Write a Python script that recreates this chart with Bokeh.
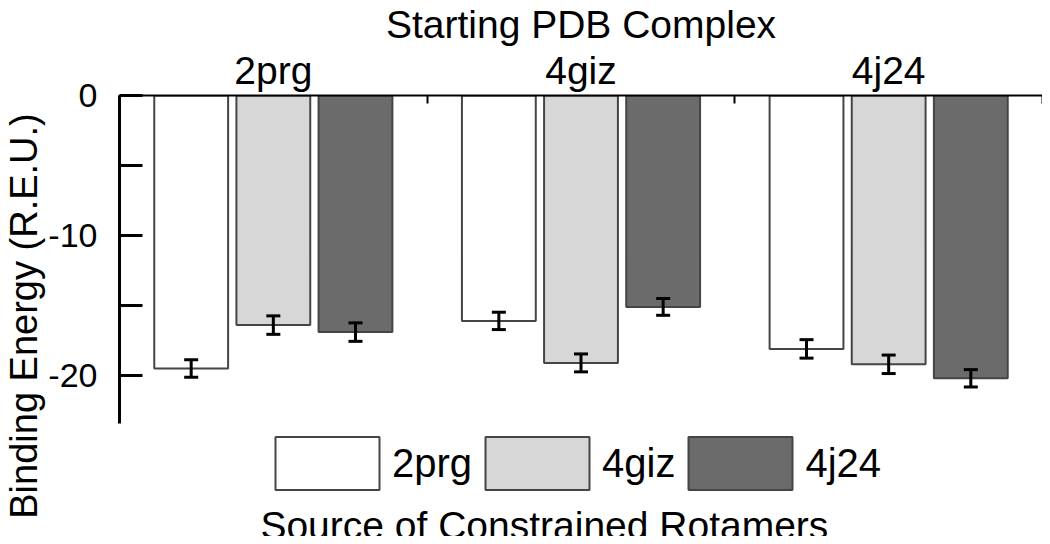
from bokeh.plotting import figure
from bokeh.models import (Range1d, LinearAxis, FixedTicker, ColumnDataSource,
                          Whisker, TeeHead, Legend, LegendItem, Label)
from bokeh.transform import dodge
from bokeh.embed import file_html
from bokeh.resources import INLINE

# Starting PDB complexes (groups) and sources of constrained rotamers (series)
complexes = ["2prg", "4giz", "4j24"]
sources = ["2prg", "4giz", "4j24"]

# Binding energy (R.E.U.) per starting complex, one list per rotamer source
energy_src_2prg = [-19.5, -16.1, -18.1]
energy_src_4giz = [-16.4, -19.1, -19.2]
energy_src_4j24 = [-16.9, -15.1, -20.2]

# error bar half-lengths
err_src_2prg = [0.62, 0.62, 0.66]
err_src_4giz = [0.66, 0.64, 0.66]
err_src_4j24 = [0.66, 0.6, 0.62]

y_tick_values = [0, -10, -20]
y_tick_labels = ["0", "-10", "-20"]
y_minor_values = [-5, -15]
y_axis_min = -23.4

FONT = "Liberation Sans"
fills = ["#ffffff", "#d7d7d7", "#6b6b6b"]
offsets = [-0.267, 0.0, 0.267]

energies = [energy_src_2prg, energy_src_4giz, energy_src_4j24]
errors = [err_src_2prg, err_src_4giz, err_src_4j24]

# group centres on a 0..N axis (one unit per starting complex)
centres = [i + 0.5 for i in range(len(complexes))]
data = {"complex": complexes, "xc": centres}
for k, (e, r) in enumerate(zip(energies, errors)):
    data[f"v{k}"] = e
    data[f"up{k}"] = [a - b for a, b in zip(e, r)]
    data[f"lo{k}"] = [a + b for a, b in zip(e, r)]
src = ColumnDataSource(data)

# the frame extends below the axis so that the legend and the bottom label sit inside it
p = figure(width=1042, height=536,
           x_range=Range1d(0, len(complexes)),
           y_range=Range1d(-31.5, 0),
           x_axis_location=None,
           output_backend="svg", toolbar_location=None,
           title="Starting PDB Complex",
           min_border_left=119, min_border_right=0,
           min_border_top=87, min_border_bottom=0)
p.outline_line_color = None
p.grid.visible = False
p.background_fill_color = "white"

p.title.text_font = FONT
p.title.text_font_size = "39px"
p.title.text_font_style = "normal"
p.title.align = "center"
p.title.text_color = "black"
p.title.standoff = 0

xax = LinearAxis(ticker=FixedTicker(ticks=centres,
                                    minor_ticks=list(range(len(complexes) + 1))),
                 major_label_overrides={t: c for t, c in zip(centres, complexes)})
xax.major_tick_line_color = None
xax.minor_tick_in = 8
xax.minor_tick_out = 0
xax.minor_tick_line_width = 2
xax.minor_tick_line_color = "black"
xax.axis_line_width = 2
xax.axis_line_color = "black"
xax.major_label_text_font = FONT
xax.major_label_text_font_size = "39px"
xax.major_label_text_color = "black"
xax.major_label_standoff = -2
p.add_layout(xax, "above")

yax = p.yaxis[0]
yax.bounds = (y_axis_min, 0)
yax.ticker = FixedTicker(ticks=y_tick_values, minor_ticks=y_minor_values)
yax.major_label_overrides = {v: l for v, l in zip(y_tick_values, y_tick_labels)}
yax.major_tick_in = 23
yax.major_tick_out = 0
yax.minor_tick_in = 23
yax.minor_tick_out = 0
yax.major_tick_line_width = 3
yax.minor_tick_line_width = 3
yax.major_tick_line_color = "black"
yax.minor_tick_line_color = "black"
yax.axis_line_width = 3
yax.axis_line_color = "black"
yax.major_label_text_font = FONT
yax.major_label_text_font_size = "34px"
yax.major_label_text_color = "black"
yax.major_label_standoff = 22
yax.axis_label = "Binding Energy (R.E.U.)"
yax.axis_label_text_font = FONT
yax.axis_label_text_font_size = "38px"
yax.axis_label_text_font_style = "normal"
yax.axis_label_text_color = "black"
yax.axis_label_standoff = 0

renderers = []
for k in range(len(sources)):
    r = p.vbar(x=dodge("xc", offsets[k]), top=0, bottom=f"v{k}",
               width=0.24, source=src, fill_color=fills[k],
               line_color="#454545", line_width=2)
    renderers.append(r)
    w = Whisker(base=dodge("xc", offsets[k]),
                upper=f"up{k}", lower=f"lo{k}", source=src, level="overlay",
                line_width=3, line_color="black",
                upper_head=TeeHead(size=14, line_width=3, line_color="black"),
                lower_head=TeeHead(size=14, line_width=3, line_color="black"))
    p.add_layout(w)

# bar-type legend swatches are drawn inset by 10% of the glyph area on each side
legend = Legend(items=[LegendItem(label=s, renderers=[r]) for s, r in zip(sources, renderers)],
                orientation="horizontal", location=(143, 40),
                glyph_width=130, glyph_height=66,
                label_text_font=FONT, label_text_font_size="40px", label_text_color="black",
                label_standoff=0, spacing=0, padding=0, margin=0,
                border_line_color=None, background_fill_alpha=0)
p.add_layout(legend, "center")

bottom_label = Label(x=0.458, y=-30.7, text="Source of Constrained Rotamers",
                     text_font=FONT, text_font_size="39px", text_color="black",
                     text_baseline="alphabetic", text_align="left")
p.add_layout(bottom_label)

open("out.html", "w").write(file_html(p, INLINE))
